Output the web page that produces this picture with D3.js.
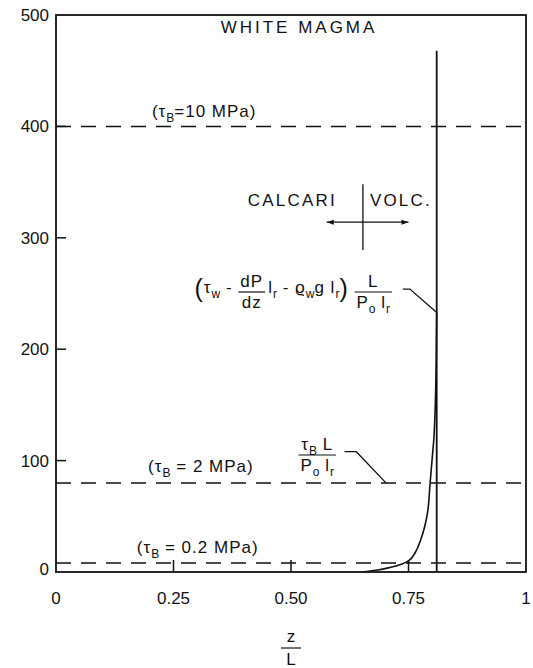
<!DOCTYPE html>
<html>
<head>
<meta charset="utf-8">
<script src="https://cdn.jsdelivr.net/npm/d3@7"></script>
<style>
  body { margin: 0; background: #fff; }
  text { font-family: "Liberation Sans", Arial, sans-serif; fill: #111; }
</style>
</head>
<body>
<svg id="chart" width="533" height="668"></svg>
<script>
'use strict';

// axes
const xTicks = [0, 0.25, 0.5, 0.75, 1];
const xTickLabels = ['0', '0.25', '0.50', '0.75', '1'];
const yTicks = [0, 100, 200, 300, 400, 500];

// solution curve (z/L, dimensionless stress)
const curveZ = [0.652, 0.68, 0.71, 0.735, 0.75, 0.765, 0.776, 0.784, 0.79, 0.796, 0.8, 0.804, 0.807, 0.809, 0.81];
const curveS = [0, 1.5, 4, 7, 10, 18, 29, 40, 52, 80, 100, 120, 150, 190, 233];

// vertical limit line
const limitZ = 0.81;
const limitTop = 468;

// tau_B levels (dashed)
const tauLevels = [400, 80, 8];
const tauValues = ['10', '2', '0.2'];
const tauSpace = ['', ' ', ' '];

const margin = {top: 15, right: 7, bottom: 96, left: 56};
const W = 533, H = 668;
const w = W - margin.left - margin.right;
const h = H - margin.top - margin.bottom;

const x = d3.scaleLinear().domain([0, 1]).range([margin.left, margin.left + w]);
const y = d3.scaleLinear().domain([0, 500]).range([margin.top + h, margin.top]);

const svg = d3.select('#chart');
const ink = '#111';

svg.append('defs').append('marker')
  .attr('id', 'arr')
  .attr('viewBox', '0 0 10 10')
  .attr('refX', 10).attr('refY', 5)
  .attr('markerWidth', 9).attr('markerHeight', 7)
  .attr('markerUnits', 'userSpaceOnUse')
  .attr('orient', 'auto-start-reverse')
  .append('path').attr('d', 'M0,1.5L10,5L0,8.5Z').attr('fill', ink);

// lays out a run of text pieces left to right, returns end x
// piece: [text, kind] kind: 'n' normal, 's' subscript, 'b' big paren, or {num, den} fraction
const FS = 17, SFS = 12;
const run = (g, x0, y0, parts, ls) => {
  let cx = x0;
  ls = ls || 0;
  parts.forEach((p) => {
    if (p.num) {
      const ng = g.append('g');
      const dg = g.append('g');
      const nw = run(ng, 0, y0 - 6, p.num, ls);
      const dw = run(dg, 0, y0 + 15, p.den, ls);
      const fw = Math.max(nw, dw) + 4;
      ng.attr('transform', 'translate(' + (cx + (fw - nw) / 2) + ',0)');
      dg.attr('transform', 'translate(' + (cx + (fw - dw) / 2) + ',0)');
      g.append('line')
        .attr('x1', cx).attr('x2', cx + fw)
        .attr('y1', y0 - 1).attr('y2', y0 - 1)
        .attr('stroke', ink).attr('stroke-width', 1.2);
      cx += fw + 3;
      return;
    }
    const kind = p[1] || 'n';
    const t = g.append('text')
      .attr('x', cx)
      .attr('y', kind === 's' ? y0 + 5 : kind === 'b' ? y0 + 4 : y0)
      .attr('font-size', kind === 's' ? SFS : kind === 'b' ? 25 : FS)
      .attr('letter-spacing', kind === 's' ? 0 : ls)
      .style('white-space', 'pre')
      .text(p[0]);
    cx += t.node().getComputedTextLength();
  });
  return cx;
};

// dashed tau lines
svg.selectAll('.tau')
  .data(tauLevels)
  .enter()
  .append('line')
  .attr('x1', x(0)).attr('x2', x(1))
  .attr('y1', (d) => y(d)).attr('y2', (d) => y(d))
  .attr('stroke', ink).attr('stroke-width', 1.5)
  .attr('stroke-dasharray', '15,10');

// tau labels
const tauLabelZ = [0.204, 0.196, 0.172];
const tauLabelDy = [-9, -11, -10];
tauLevels.forEach((lv, i) => {
  run(svg.append('g'), x(tauLabelZ[i]), y(lv) + tauLabelDy[i], [
    ['(τ'], ['B', 's'], [tauSpace[i] + '=' + tauSpace[i] + tauValues[i] + ' MPa)']
  ], 1);
});

// frame
svg.append('rect')
  .attr('x', x(0)).attr('y', y(500))
  .attr('width', x(1) - x(0)).attr('height', y(0) - y(500))
  .attr('fill', 'none').attr('stroke', ink).attr('stroke-width', 1.8);

// inward ticks
svg.selectAll('.yt')
  .data(yTicks.slice(1, -1))
  .enter()
  .append('line')
  .attr('x1', x(0)).attr('x2', x(0) + 10)
  .attr('y1', (d) => y(d)).attr('y2', (d) => y(d))
  .attr('stroke', ink).attr('stroke-width', 1.5);

svg.selectAll('.xt')
  .data(xTicks.slice(1, -1))
  .enter()
  .append('line')
  .attr('x1', (d) => x(d)).attr('x2', (d) => x(d))
  .attr('y1', y(0)).attr('y2', y(0) - 12)
  .attr('stroke', ink).attr('stroke-width', 1.5);

// tick labels
svg.selectAll('.yl')
  .data(yTicks)
  .enter()
  .append('text')
  .attr('x', x(0) - 7)
  .attr('y', (d) => y(d) + (d === 0 ? -3 : 0))
  .attr('dy', '0.35em')
  .attr('text-anchor', 'end')
  .attr('font-size', FS)
  .text((d) => d);

svg.selectAll('.xl')
  .data(xTicks)
  .enter()
  .append('text')
  .attr('x', (d) => x(d))
  .attr('y', y(0) + 32)
  .attr('text-anchor', 'middle')
  .attr('font-size', FS)
  .text((d, i) => xTickLabels[i]);

// axis title z / L
const xm = (x(0) + x(1)) / 2;
svg.append('text').attr('x', xm).attr('y', y(0) + 70)
  .attr('text-anchor', 'middle').attr('font-size', FS).text('z');
svg.append('line')
  .attr('x1', xm - 10).attr('x2', xm + 10)
  .attr('y1', y(0) + 76).attr('y2', y(0) + 76)
  .attr('stroke', ink).attr('stroke-width', 1.2);
svg.append('text').attr('x', xm).attr('y', y(0) + 93)
  .attr('text-anchor', 'middle').attr('font-size', FS).text('L');

// vertical limit line
svg.append('line')
  .attr('x1', x(limitZ)).attr('x2', x(limitZ))
  .attr('y1', y(0)).attr('y2', y(limitTop))
  .attr('stroke', ink).attr('stroke-width', 1.8);

// curve
const line = d3.line()
  .x((d, i) => x(curveZ[i]))
  .y((d) => y(d))
  .curve(d3.curveMonotoneY);

svg.append('path')
  .datum(curveS)
  .attr('d', line)
  .attr('fill', 'none')
  .attr('stroke', ink)
  .attr('stroke-width', 1.6);

// title
svg.append('text')
  .attr('x', 299).attr('y', y(500) + 18)
  .attr('text-anchor', 'middle')
  .attr('font-size', 17)
  .attr('letter-spacing', 3)
  .text('WHITE MAGMA');

// CALCARI | VOLC. marker
const crossZ = 0.653;
svg.append('text')
  .attr('x', x(crossZ) - 26).attr('y', y(314) - 16)
  .attr('text-anchor', 'end')
  .attr('font-size', 17).attr('letter-spacing', 2.2)
  .text('CALCARI');
svg.append('text')
  .attr('x', x(crossZ) + 7).attr('y', y(314) - 16)
  .attr('font-size', 17).attr('letter-spacing', 2.2)
  .text('VOLC.');
svg.append('line')
  .attr('x1', x(crossZ)).attr('x2', x(crossZ))
  .attr('y1', y(348)).attr('y2', y(289))
  .attr('stroke', ink).attr('stroke-width', 1.3);
svg.append('line')
  .attr('x1', x(0.576)).attr('x2', x(0.75))
  .attr('y1', y(314)).attr('y2', y(314))
  .attr('stroke', ink).attr('stroke-width', 1.3)
  .attr('marker-start', 'url(#arr)')
  .attr('marker-end', 'url(#arr)');

// formula for the curve
const fg = svg.append('g');
const fw = run(fg, 0, 293, [
  ['(', 'b'], ['τ'], ['w', 's'], [' - '],
  {num: [['dP']], den: [['dz']]},
  ['l'], ['r', 's'], [' - ϱ'], ['w', 's'], ['g l'], ['r', 's'], [')', 'b'], [' '],
  {num: [['L']], den: [['P'], ['o', 's'], [' l'], ['r', 's']]}
], 1);
fg.attr('transform', 'translate(' + (395 - fw) + ',0)');
svg.append('path')
  .attr('d', d3.line()([[x(0.738), y(254)], [x(0.753), y(254)], [x(limitZ), y(233)]]))
  .attr('fill', 'none').attr('stroke', ink).attr('stroke-width', 1.3);

// tau_B L / Po lr
const tg = svg.append('g');
const tw = run(tg, 0, 456, [
  {num: [['τ'], ['B', 's'], [' L']], den: [['P'], ['o', 's'], [' l'], ['r', 's']]}
], 1);
tg.attr('transform', 'translate(' + (339 - tw) + ',0)');
svg.append('path')
  .attr('d', d3.line()([[x(0.614), y(108)], [x(0.639), y(108)], [x(0.702), y(80)]]))
  .attr('fill', 'none').attr('stroke', ink).attr('stroke-width', 1.3);
</script>
</body>
</html>
